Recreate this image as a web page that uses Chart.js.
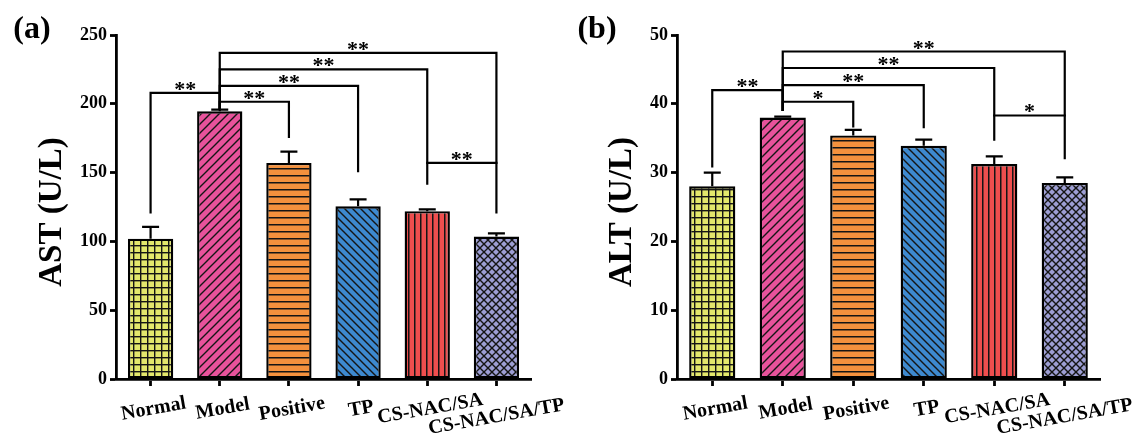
<!DOCTYPE html>
<html><head><meta charset="utf-8">
<script src="https://cdn.jsdelivr.net/npm/chart.js@4.4.0/dist/chart.umd.min.js"></script>
<style>
html,body{margin:0;padding:0;background:#fff;width:1137px;height:439px;overflow:hidden;}
canvas{position:absolute;top:0;}
#c1{left:0;} #c2{left:568px;}
</style></head><body>
<canvas id="c1" width="568" height="439"></canvas>
<canvas id="c2" width="569" height="439"></canvas>
<script>
// ---------- data ----------
const categories = ['Normal', 'Model', 'Positive', 'TP', 'CS-NAC/SA', 'CS-NAC/SA/TP'];

const astMeans = [102, 194.5, 157, 125.5, 122, 103.5];
const astErrors = [8.5, 1.3, 8.2, 5.0, 1.3, 2.4];
const astTicks = [0, 50, 100, 150, 200, 250];

const altMeans = [28.0, 38.0, 35.4, 33.9, 31.25, 28.5];
const altErrors = [2.0, 0.15, 0.8, 0.9, 1.1, 0.8];
const altTicks = [0, 10, 20, 30, 40, 50];

// significance brackets: group indices, bracket height, leg bottoms, label
const astBracketFrom = [0, 1, 1, 1, 1, 4];
const astBracketTo = [1, 2, 3, 4, 5, 5];
const astBracketY = [208, 201.5, 213, 225, 237, 157];
const astBracketLeftEnd = [121, 196.5, 196.5, 196.5, 196.5, 157];
const astBracketRightEnd = [196.5, 176, 151, 142, 121, 157];
const astBracketLabels = ['**', '**', '**', '**', '**', '**'];

const altBracketFrom = [0, 1, 1, 1, 1, 4];
const altBracketTo = [1, 2, 3, 4, 5, 5];
const altBracketY = [42.0, 40.3, 42.7, 45.2, 47.6, 38.3];
const altBracketLeftEnd = [30.9, 39.1, 39.1, 39.1, 39.1, 38.3];
const altBracketRightEnd = [39.1, 36.7, 36.6, 34.8, 32.1, 38.3];
const altBracketLabels = ['**', '*', '**', '**', '**', '*'];

// ---------- styling ----------
const SERIF = "'Liberation Serif', 'Times New Roman', serif";
const barColors = ['#e3e76c', '#e8529b', '#f4913d', '#3d89cf', '#ef4e4e', '#9d9ed4'];
const barPatterns = ['grid', 'slash', 'hline', 'backslash', 'vline', 'cross'];

function makePattern(kind, color) {
  const sizes = {grid: 7, slash: 9, hline: 7, backslash: 8, vline: 6, cross: 8};
  const s = sizes[kind];
  const c = document.createElement('canvas');
  c.width = s; c.height = s;
  const g = c.getContext('2d');
  g.fillStyle = color; g.fillRect(0, 0, s, s);
  g.fillStyle = '#151515'; g.strokeStyle = '#151515'; g.lineWidth = 1.4;
  const diag = (dir) => {
    g.beginPath();
    for (let k = -1; k <= 1; k++) {
      if (dir > 0) { g.moveTo(k * s - 1, s + 1); g.lineTo(k * s + s + 1, -1); }
      else { g.moveTo(k * s - 1, -1); g.lineTo(k * s + s + 1, s + 1); }
    }
    g.stroke();
  };
  if (kind === 'grid') { g.fillRect(0, 0, 1.4, s); g.fillRect(0, 0, s, 1.4); }
  if (kind === 'hline') { g.fillRect(0, 0, s, 1.5); }
  if (kind === 'vline') { g.fillRect(0, 0, 1.5, s); }
  if (kind === 'slash') diag(1);
  if (kind === 'backslash') diag(-1);
  if (kind === 'cross') { diag(1); diag(-1); }
  return g.createPattern(c, 'repeat');
}
const fills = barColors.map((col, i) => makePattern(barPatterns[i], col));

function overlayPlugin(cfg) {
  return {
    id: 'overlay',
    afterDatasetsDraw(chart) {
      const ctx = chart.ctx, xs = chart.scales.x, ys = chart.scales.y;
      const meta = chart.getDatasetMeta(0);
      ctx.save();
      ctx.strokeStyle = '#000';
      ctx.lineWidth = 2.2;
      ctx.lineCap = 'butt';
      // error bars
      cfg.means.forEach((m, i) => {
        const bx = meta.data[i].x;
        const y0 = ys.getPixelForValue(m), y1 = ys.getPixelForValue(m + cfg.errs[i]);
        ctx.beginPath();
        ctx.moveTo(bx, y0); ctx.lineTo(bx, y1);
        ctx.moveTo(bx - 8.5, y1); ctx.lineTo(bx + 8.5, y1);
        ctx.stroke();
      });
      // brackets
      ctx.lineCap = 'square';
      cfg.bFrom.forEach((a, k) => {
        const b = cfg.bTo[k];
        const xa = xs.getPixelForValue(a), xb = xs.getPixelForValue(b);
        const yy = ys.getPixelForValue(cfg.bY[k]);
        const ya = ys.getPixelForValue(cfg.bL[k]), yb = ys.getPixelForValue(cfg.bR[k]);
        ctx.beginPath();
        ctx.moveTo(xa, ya); ctx.lineTo(xa, yy); ctx.lineTo(xb, yy); ctx.lineTo(xb, yb);
        ctx.stroke();
        ctx.fillStyle = '#000';
        ctx.font = 'bold 22px ' + SERIF;
        ctx.textAlign = 'center';
        ctx.textBaseline = 'alphabetic';
        ctx.fillText(cfg.bLabels[k], (xa + xb) / 2, yy + 3);
      });
      ctx.restore();
    },
    afterDraw(chart) {
      const ctx = chart.ctx, xs = chart.scales.x;
      ctx.save();
      ctx.fillStyle = '#000';
      // category labels (rotated)
      ctx.font = 'bold 20px ' + SERIF;
      ctx.textAlign = 'center';
      ctx.textBaseline = 'middle';
      categories.forEach((lab, i) => {
        const last = i === categories.length - 1;
        const cx = xs.getPixelForValue(i) + (last ? 0 : 3);
        const cy = last ? 417 : 409;
        ctx.save();
        ctx.translate(cx, cy);
        ctx.rotate(-10 * Math.PI / 180);
        ctx.fillText(lab, 0, 0);
        ctx.restore();
      });
      // y title
      ctx.save();
      ctx.font = 'bold 33px ' + SERIF;
      ctx.translate(cfg.titleX, 212);
      ctx.rotate(-Math.PI / 2);
      ctx.fillText(cfg.yTitle, 0, 0);
      ctx.restore();
      // panel label
      ctx.font = 'bold 32px ' + SERIF;
      ctx.fillText(cfg.panel, cfg.panelX, 30);
      ctx.restore();
    }
  };
}

function buildChart(id, cfg) {
  const canvas = document.getElementById(id);
  const W = canvas.width;
  return new Chart(canvas, {
    type: 'bar',
    data: {
      labels: categories,
      datasets: [{
        data: cfg.means,
        backgroundColor: fills,
        borderColor: '#000',
        borderWidth: 2.4,
        borderSkipped: false,
        barPercentage: 0.655,
        categoryPercentage: 1.0
      }]
    },
    options: {
      responsive: false,
      animation: false,
      devicePixelRatio: 1,
      layout: {padding: {top: cfg.top, left: 0, right: W - cfg.right, bottom: 0}},
      plugins: {legend: {display: false}, tooltip: {enabled: false}, title: {display: false}},
      scales: {
        x: {
          type: 'category',
          offset: true,
          afterFit: (s) => { s.height = 439 - cfg.bottom; },
          grid: {offset: false, drawOnChartArea: false, drawTicks: true, tickLength: 7, tickWidth: 2.8, tickColor: '#000'},
          border: {display: true, color: '#000', width: 2.8},
          ticks: {display: false}
        },
        y: {
          min: cfg.ticks[0],
          max: cfg.ticks[cfg.ticks.length - 1],
          afterBuildTicks: (s) => { s.ticks = cfg.ticks.map(v => ({value: v})); },
          afterFit: (s) => { s.width = cfg.left; },
          grid: {drawOnChartArea: false, drawTicks: true, tickLength: 6, tickWidth: 2.8, tickColor: '#000'},
          border: {display: true, color: '#000', width: 2.8},
          ticks: {color: '#000', padding: 3, font: {family: SERIF, weight: 'bold', size: 18}}
        }
      }
    },
    plugins: [overlayPlugin(cfg)]
  });
}

buildChart('c1', {
  means: astMeans, errs: astErrors, ticks: astTicks,
  bFrom: astBracketFrom, bTo: astBracketTo, bY: astBracketY, bL: astBracketLeftEnd, bR: astBracketRightEnd, bLabels: astBracketLabels,
  yTitle: 'AST (U/L)', panel: '(a)', titleX: 52, panelX: 32,
  left: 116, right: 531, top: 35, bottom: 379
});
buildChart('c2', {
  means: altMeans, errs: altErrors, ticks: altTicks,
  bFrom: altBracketFrom, bTo: altBracketTo, bY: altBracketY, bL: altBracketLeftEnd, bR: altBracketRightEnd, bLabels: altBracketLabels,
  yTitle: 'ALT (U/L)', panel: '(b)', titleX: 54, panelX: 29,
  left: 109, right: 532, top: 35, bottom: 379
});
</script>
</body></html>
